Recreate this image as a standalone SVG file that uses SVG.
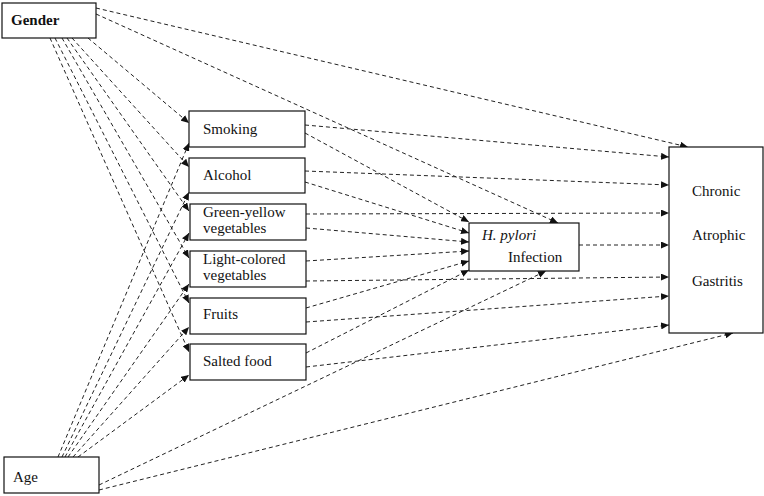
<svg xmlns="http://www.w3.org/2000/svg" width="764" height="496" viewBox="0 0 764 496">
<defs>
<marker id="ah" markerUnits="userSpaceOnUse" markerWidth="8" markerHeight="7" refX="8" refY="3.5" orient="auto">
<path d="M0,0 L8,3.5 L0,7 z" fill="#111"/>
</marker>
<style>
.box{fill:#fff;stroke:#111;stroke-width:1.2}
.t{font-family:"Liberation Serif","Times New Roman",serif;font-size:15px;fill:#111}
.c line{stroke:#222;stroke-width:1;stroke-dasharray:4 3;marker-end:url(#ah);fill:none}
</style>
</defs>
<rect width="764" height="496" fill="#fff"/>
<g id="connectors" class="c">
<!-- Gender -->
<line x1="96" y1="8" x2="688" y2="147"/>
<line x1="96" y1="14" x2="558" y2="223"/>
<line x1="88" y1="38" x2="189" y2="123"/>
<line x1="72" y1="38" x2="189" y2="167"/>
<line x1="67" y1="38" x2="189" y2="211"/>
<line x1="62" y1="38" x2="189" y2="258"/>
<line x1="55" y1="38" x2="189" y2="303"/>
<line x1="50" y1="38" x2="189" y2="352"/>
<!-- Age -->
<line x1="58" y1="457" x2="189" y2="143"/>
<line x1="62" y1="457" x2="189" y2="192"/>
<line x1="65" y1="457" x2="189" y2="233"/>
<line x1="68" y1="457" x2="189" y2="284"/>
<line x1="73" y1="457" x2="189" y2="327"/>
<line x1="78" y1="457" x2="189" y2="375"/>
<line x1="99" y1="485" x2="546" y2="271"/>
<line x1="99" y1="490" x2="733" y2="333"/>
<!-- middle to H. pylori / CAG -->
<line x1="305" y1="125" x2="669" y2="157"/>
<line x1="305" y1="133" x2="469" y2="222"/>
<line x1="305" y1="171" x2="669" y2="185"/>
<line x1="305" y1="182" x2="469" y2="233"/>
<line x1="306" y1="214" x2="669" y2="213"/>
<line x1="306" y1="228" x2="469" y2="242"/>
<line x1="306" y1="261" x2="469" y2="251"/>
<line x1="306" y1="281" x2="669" y2="277"/>
<line x1="306" y1="308" x2="469" y2="261"/>
<line x1="306" y1="322" x2="669" y2="296"/>
<line x1="306" y1="353" x2="469" y2="270"/>
<line x1="306" y1="367" x2="669" y2="325"/>
<!-- H. pylori to CAG -->
<line x1="579" y1="245" x2="669" y2="245"/>
</g>
<g id="gender"><rect class="box" x="2" y="3" width="94" height="35"/><text class="t" x="11" y="25" font-weight="bold">Gender</text></g>
<g id="age"><rect class="box" x="4" y="457" width="95" height="36"/><text class="t" x="13" y="482">Age</text></g>
<g id="smoking"><rect class="box" x="189" y="111" width="116" height="36"/><text class="t" x="203" y="134">Smoking</text></g>
<g id="alcohol"><rect class="box" x="189" y="158" width="116" height="35"/><text class="t" x="203" y="180">Alcohol</text></g>
<g id="green-yellow"><rect class="box" x="190" y="204" width="116" height="36"/><text class="t" x="203" y="217">Green-yellow</text><text class="t" x="203" y="233">vegetables</text></g>
<g id="light-colored"><rect class="box" x="190" y="251" width="116" height="36"/><text class="t" x="203" y="264">Light-colored</text><text class="t" x="203" y="280">vegetables</text></g>
<g id="fruits"><rect class="box" x="190" y="298" width="116" height="36"/><text class="t" x="203" y="319">Fruits</text></g>
<g id="salted"><rect class="box" x="190" y="344" width="116" height="36"/><text class="t" x="203" y="366">Salted food</text></g>
<g id="hpylori"><rect class="box" x="469" y="223" width="110" height="48"/><text class="t" x="482" y="240" font-style="italic">H. pylori</text><text class="t" x="508" y="262">Infection</text></g>
<g id="cag"><rect class="box" x="669" y="147" width="94" height="186"/><text class="t" x="692" y="196">Chronic</text><text class="t" x="692" y="240">Atrophic</text><text class="t" x="692" y="286">Gastritis</text></g>
</svg>
